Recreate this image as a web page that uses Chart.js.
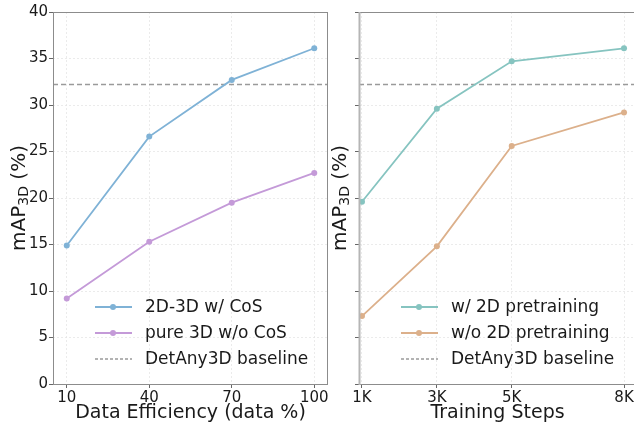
<!DOCTYPE html>
<html>
<head>
<meta charset="utf-8">
<script src="https://cdn.jsdelivr.net/npm/chart.js@4"></script>
<style>
  html, body { margin: 0; padding: 0; background: #fff; overflow: hidden; width: 634px; height: 428px; }
  .box { position: absolute; top: 0; height: 428px; }
  #left { left: 0; width: 360px; }
  #right { left: 330px; width: 330px; }
</style>
</head>
<body>
<div class="box" id="left"><canvas id="chartLeft"></canvas></div>
<div class="box" id="right"><canvas id="chartRight"></canvas></div>
<script>
// left panel: data efficiency
const dataPct = [10, 40, 70, 100];
const cosVals = [14.9, 26.6, 32.7, 36.1];
const noCosVals = [9.2, 15.3, 19.5, 22.7];

// right panel: training steps (in K)
const steps = [1, 3, 5, 8];
const stepLabels = ["1K", "3K", "5K", "8K"];
const pretrainVals = [19.6, 29.6, 34.7, 36.1];
const noPretrainVals = [7.3, 14.8, 25.6, 29.2];

const baseline = 32.2;
const yMin = 0, yMax = 40, yStep = 5;

const FONT = '"DejaVu Sans", sans-serif';
const TEXT = "#1a1a1a";

function pts(xs, ys) {
  return xs.map((x, i) => ({ x: x, y: ys[i] }));
}

function lineSet(label, color, xs, ys) {
  return {
    label: label,
    data: pts(xs, ys),
    borderColor: color,
    backgroundColor: color,
    borderWidth: 1.8,
    pointRadius: 3,
    pointHoverRadius: 3,
    pointBorderWidth: 0,
    tension: 0
  };
}

function baseSet(xmin, xmax) {
  return {
    label: "DetAny3D baseline",
    data: [{ x: xmin, y: baseline }, { x: xmax, y: baseline }],
    borderColor: "#9a9a9a",
    borderWidth: 1.5,
    borderDash: [5, 3],
    pointRadius: 0,
    pointHoverRadius: 0
  };
}

// frame, y title with subscript, x title and legend inside the plot
const decor = {
  id: "decor",
  afterDraw(chart, args, o) {
    const ctx = chart.ctx;
    const a = chart.chartArea;
    ctx.save();

    // spines
    ctx.strokeStyle = "#8c8c8c";
    ctx.lineWidth = 1;
    ctx.setLineDash([]);
    ctx.strokeRect(Math.round(a.left) + 0.5, Math.round(a.top) + 0.5,
      Math.round(a.right - a.left) - 1, Math.round(a.bottom - a.top));
    if (o.thickLeft) {
      ctx.strokeStyle = "#b5b5b5";
      ctx.lineWidth = 2;
      ctx.beginPath();
      ctx.moveTo(a.left + 0.5, a.top);
      ctx.lineTo(a.left + 0.5, a.bottom + 1);
      ctx.stroke();
    }

    // y title: mAP_3D (%)
    ctx.fillStyle = TEXT;
    ctx.textBaseline = "alphabetic";
    ctx.font = "20px " + FONT;
    const w1 = ctx.measureText("mAP").width;
    const w3 = ctx.measureText(" (%)").width;
    ctx.font = "14px " + FONT;
    const w2 = ctx.measureText("3D").width;
    const total = w1 + w2 + w3;
    ctx.translate(o.yTitleX, (a.top + a.bottom) / 2);
    ctx.rotate(-Math.PI / 2);
    let x = -total / 2;
    ctx.font = "20px " + FONT;
    ctx.fillText("mAP", x, 7);
    x += w1;
    ctx.font = "14px " + FONT;
    ctx.fillText("3D", x, 10);
    x += w2;
    ctx.font = "20px " + FONT;
    ctx.fillText(" (%)", x, 7);
    ctx.setTransform(1, 0, 0, 1, 0, 0);

    // x title
    ctx.font = "19px " + FONT;
    ctx.textAlign = "center";
    ctx.textBaseline = "middle";
    ctx.fillText(o.xTitle, (a.left + a.right) / 2, 413);

    // legend
    ctx.textAlign = "left";
    ctx.font = "17px " + FONT;
    chart.data.datasets.forEach((ds, i) => {
      const y = o.legY + i * 26;
      ctx.strokeStyle = ds.borderColor;
      ctx.lineWidth = ds.borderWidth;
      ctx.setLineDash(ds.borderDash ? [3, 2] : []);
      ctx.beginPath();
      ctx.moveTo(o.legX, y);
      ctx.lineTo(o.legX + 37, y);
      ctx.stroke();
      ctx.setLineDash([]);
      if (ds.pointRadius > 0) {
        ctx.fillStyle = ds.borderColor;
        ctx.beginPath();
        ctx.arc(o.legX + 18, y, 3, 0, Math.PI * 2);
        ctx.fill();
      }
      ctx.fillStyle = TEXT;
      ctx.fillText(ds.label, o.legX + 50, y + 1);
    });
    ctx.restore();
  }
};

function makeOptions(xmin, xmax, xTicks, xLabel, yWidth, showYLabels, padRight, decorOpts) {
  return {
    responsive: true,
    maintainAspectRatio: false,
    animation: false,
    layout: { padding: { top: 12, right: padRight, left: 0, bottom: 0 } },
    plugins: { legend: { display: false }, tooltip: { enabled: false }, decor: decorOpts },
    scales: {
      x: {
        type: "linear",
        min: xmin,
        max: xmax,
        afterBuildTicks: (s) => { s.ticks = xTicks.map(v => ({ value: v })); },
        afterFit: (s) => { s.height = 44; },
        ticks: {
          callback: xLabel,
          color: TEXT,
          font: { family: FONT, size: 15 },
          padding: 1,
          maxRotation: 0
        },
        grid: { color: "#e6e6e6", lineWidth: 0.8, tickColor: "#666", tickLength: 4, tickWidth: 1 },
        border: { display: false, dash: [2, 2] }
      },
      y: {
        min: yMin,
        max: yMax,
        afterFit: (s) => { s.width = yWidth; },
        ticks: {
          stepSize: yStep,
          display: showYLabels,
          color: TEXT,
          font: { family: FONT, size: 15 },
          padding: 1
        },
        grid: { color: "#e6e6e6", lineWidth: 0.8, tickColor: "#666", tickLength: 4, tickWidth: 1 },
        border: { display: false, dash: [2, 2] }
      }
    }
  };
}

new Chart(document.getElementById("chartLeft"), {
  type: "line",
  data: {
    datasets: [
      lineSet("2D-3D w/ CoS", "#7fb2d6", dataPct, cosVals),
      lineSet("pure 3D w/o CoS", "#c49ad8", dataPct, noCosVals),
      baseSet(5, 105)
    ]
  },
  options: makeOptions(5, 105, dataPct, (v) => String(v), 53, true, 32,
    { xTitle: "Data Efficiency (data %)", yTitleX: 18, legX: 95, legY: 307, thickLeft: false }),
  plugins: [decor]
});

new Chart(document.getElementById("chartRight"), {
  type: "line",
  data: {
    datasets: [
      lineSet("w/ 2D pretraining", "#86c4c0", steps, pretrainVals),
      lineSet("w/o 2D pretraining", "#dcb08b", steps, noPretrainVals),
      baseSet(0.92, 8.32)
    ]
  },
  options: makeOptions(0.92, 8.32, steps, (v) => stepLabels[steps.indexOf(v)], 29, false, 24,
    { xTitle: "Training Steps", yTitleX: 9, legX: 71, legY: 307, thickLeft: true }),
  plugins: [decor]
});
</script>
</body>
</html>
